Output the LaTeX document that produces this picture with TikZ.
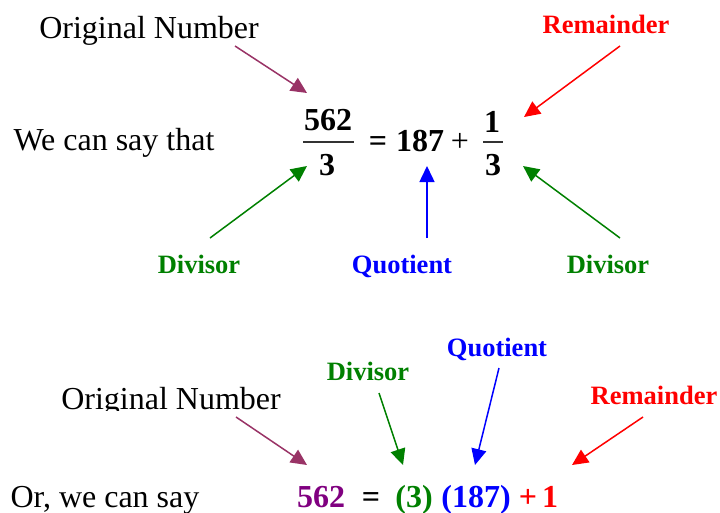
\documentclass[tikz,border=0pt]{standalone}
\usepackage{fontspec}
\setmainfont{Liberation Serif}
\usetikzlibrary{arrows.meta}
\definecolor{mPlum}{HTML}{993366}
\definecolor{mPurple}{HTML}{800080}
\definecolor{mGreen}{HTML}{008000}
\definecolor{mBlue}{HTML}{0000FF}
\definecolor{mRed}{HTML}{FF0000}

\begin{document}
\begin{tikzpicture}[x=1pt, y=-1pt,
  every node/.style={inner sep=0pt, anchor=base},
  normaltext/.style={font=\fontsize{32}{38}\selectfont},
  bignum/.style={font=\fontsize{32}{38}\selectfont\bfseries},
  labeltext/.style={font=\fontsize{26.5}{32}\selectfont\bfseries},
  pointer/.style={-{Triangle[length=16pt,width=15pt]}, line width=1.5pt}]
\useasboundingbox (0,0) rectangle (720,512);

% first form: fraction
\node[normaltext] (orig1) at (149,38) {Original Number};
\node[normaltext] (say1) at (114,150) {We can say that};
\node[bignum] (num1) at (328,130) {562};
\node[bignum] (den1) at (327,175) {3};
\draw[line width=1.6pt, black!80] (303,142) -- (354,142);
\node[bignum] (eq1) at (378,151) {=};
\node[bignum] (quot1) at (420,151) {187};
\node[normaltext] (plus1) at (460,151) {+};
\node[bignum] (num2) at (492,132) {1};
\node[bignum] (den2) at (493,175) {3};
\draw[line width=1.6pt, black!80] (483,142) -- (503,142);
\node[labeltext, mRed] (rem1) at (606,33) {Remainder};
\node[labeltext, mGreen] (div1) at (199,273) {Divisor};
\node[labeltext, mBlue] (quo1) at (402,273) {Quotient};
\node[labeltext, mGreen] (div2) at (608,273) {Divisor};
\coordinate (tnum1) at (307,93);
\coordinate (tnum2) at (524,117);
\coordinate (tden1) at (307,166);
\coordinate (tquot1) at (427,166);
\coordinate (tden2) at (523,166);
\draw[pointer, mPlum] ([shift={(86,8)}]orig1.base) -- (tnum1);
\draw[pointer, mRed] ([shift={(14,13)}]rem1.base) -- (tnum2);
\draw[pointer, mGreen] ([shift={(11,-35)}]div1.base) -- (tden1);
\draw[pointer, mBlue] ([shift={(25,-35)}]quo1.base) -- (tquot1);
\draw[pointer, mGreen] ([shift={(12,-35)}]div2.base) -- (tden2);

% second form: product
\begin{scope}
\clip (0,370) rectangle (300,410);
\node[normaltext] (orig2) at (171,409) {Original Number};
\end{scope}
\node[normaltext] (say2) at (105,507) {Or, we can say};
\node[labeltext, mGreen] (div3) at (368,380) {Divisor};
\node[labeltext, mBlue] (quo2) at (497,356) {Quotient};
\node[labeltext, mRed] (rem2) at (654,404) {Remainder};
\node[bignum, mPurple] (n562) at (321,507) {562};
\node[bignum] (eq2) at (371,507) {=};
\node[bignum, mGreen] (fac3) at (414,507) {(3)};
\node[bignum, mBlue] (fac187) at (476,507) {(187)};
\node[bignum, mRed] (plus2) at (528,507) {+};
\node[bignum, mRed] (one) at (550,507) {1};
\coordinate (tn562) at (307,465);
\coordinate (tfac3) at (403,465);
\coordinate (tfac187) at (475,465);
\coordinate (tone) at (572,465);
\draw[pointer, mPlum] ([shift={(65,8)}]orig2.base) -- (tn562);
\draw[pointer, mGreen] ([shift={(11,13)}]div3.base) -- (tfac3);
\draw[pointer, mBlue] ([shift={(2,12)}]quo2.base) -- (tfac187);
\draw[pointer, mRed] ([shift={(-11,13)}]rem2.base) -- (tone);
\end{tikzpicture}
\end{document}
